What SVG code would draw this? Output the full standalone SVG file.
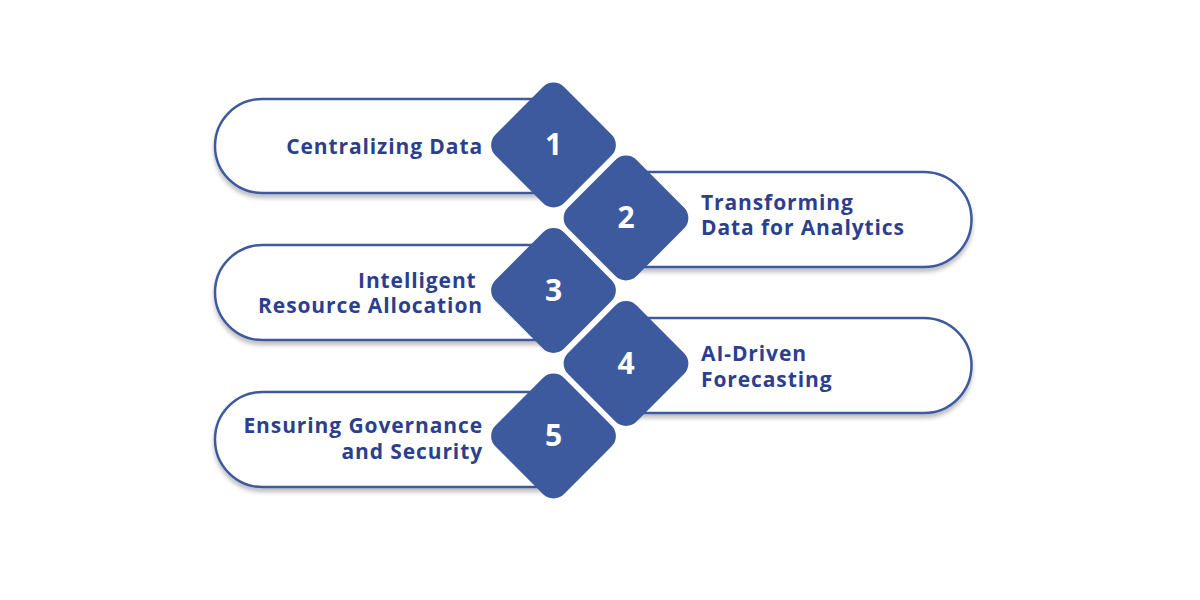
<svg xmlns="http://www.w3.org/2000/svg" width="1200" height="600" viewBox="0 0 1200 600">
<defs>
<filter id="sh" x="-10%" y="-20%" width="120%" height="150%">
<feGaussianBlur in="SourceAlpha" stdDeviation="2"/>
<feOffset dx="0" dy="4" result="b"/>
<feComponentTransfer><feFuncA type="linear" slope="0.25"/></feComponentTransfer>
<feMerge><feMergeNode/><feMergeNode in="SourceGraphic"/></feMerge>
</filter>
<rect id="dia" x="-48.5" y="-48.5" width="97" height="97" rx="15" ry="15" transform="rotate(45)"/>
</defs>
<style>
.pill{fill:#ffffff;stroke:#3E5A9E;stroke-width:2.5;filter:url(#sh)}
.dia{fill:#3E5A9E}
.lbl{font-family:"Open Sans","Liberation Sans",sans-serif;font-weight:700;font-size:21px;letter-spacing:0.9px;fill:#2C3F8E}
.num{font-family:"Open Sans","Liberation Sans",sans-serif;font-weight:700;font-size:30px;fill:#ffffff;text-anchor:middle}
.end{text-anchor:end}
</style>
<rect width="1200" height="600" fill="#ffffff"/>
<g id="node1">
<path class="pill" d="M555,99 H262 A47,47 0 0 0 262,193 H555 Z"/>
<text class="lbl end" x="483" y="154">Centralizing Data</text>
</g>
<g id="node2">
<path class="pill" d="M625,172 H924 A47.5,47.5 0 0 1 924,267 H625 Z"/>
<text class="lbl" x="701" y="210">Transforming</text>
<text class="lbl" x="701" y="235">Data for Analytics</text>
</g>
<g id="node3">
<path class="pill" d="M555,245 H262.5 A47.5,47.5 0 0 0 262.5,340 H555 Z"/>
<text class="lbl end" x="483" y="288" xml:space="preserve">Intelligent </text>
<text class="lbl end" x="483" y="313">Resource Allocation</text>
</g>
<g id="node4">
<path class="pill" d="M625,318 H924 A47.5,47.5 0 0 1 924,413 H625 Z"/>
<text class="lbl" x="701" y="361">AI-Driven</text>
<text class="lbl" x="701" y="387">Forecasting</text>
</g>
<g id="node5">
<path class="pill" d="M555,392 H262.5 A47.5,47.5 0 0 0 262.5,487 H555 Z"/>
<text class="lbl end" x="483" y="433">Ensuring Governance</text>
<text class="lbl end" x="483" y="459">and Security</text>
</g>
<g id="badges">
<g id="badge1" transform="translate(553.5,145)"><use href="#dia" class="dia"/><text class="num" y="10">1</text></g>
<g id="badge2" transform="translate(626,218)"><use href="#dia" class="dia"/><text class="num" y="10">2</text></g>
<g id="badge3" transform="translate(553.5,290.5)"><use href="#dia" class="dia"/><text class="num" y="10">3</text></g>
<g id="badge4" transform="translate(626,363.5)"><use href="#dia" class="dia"/><text class="num" y="10">4</text></g>
<g id="badge5" transform="translate(553.5,436)"><use href="#dia" class="dia"/><text class="num" y="10">5</text></g>
</g>
<g id="connectors"></g>
</svg>
